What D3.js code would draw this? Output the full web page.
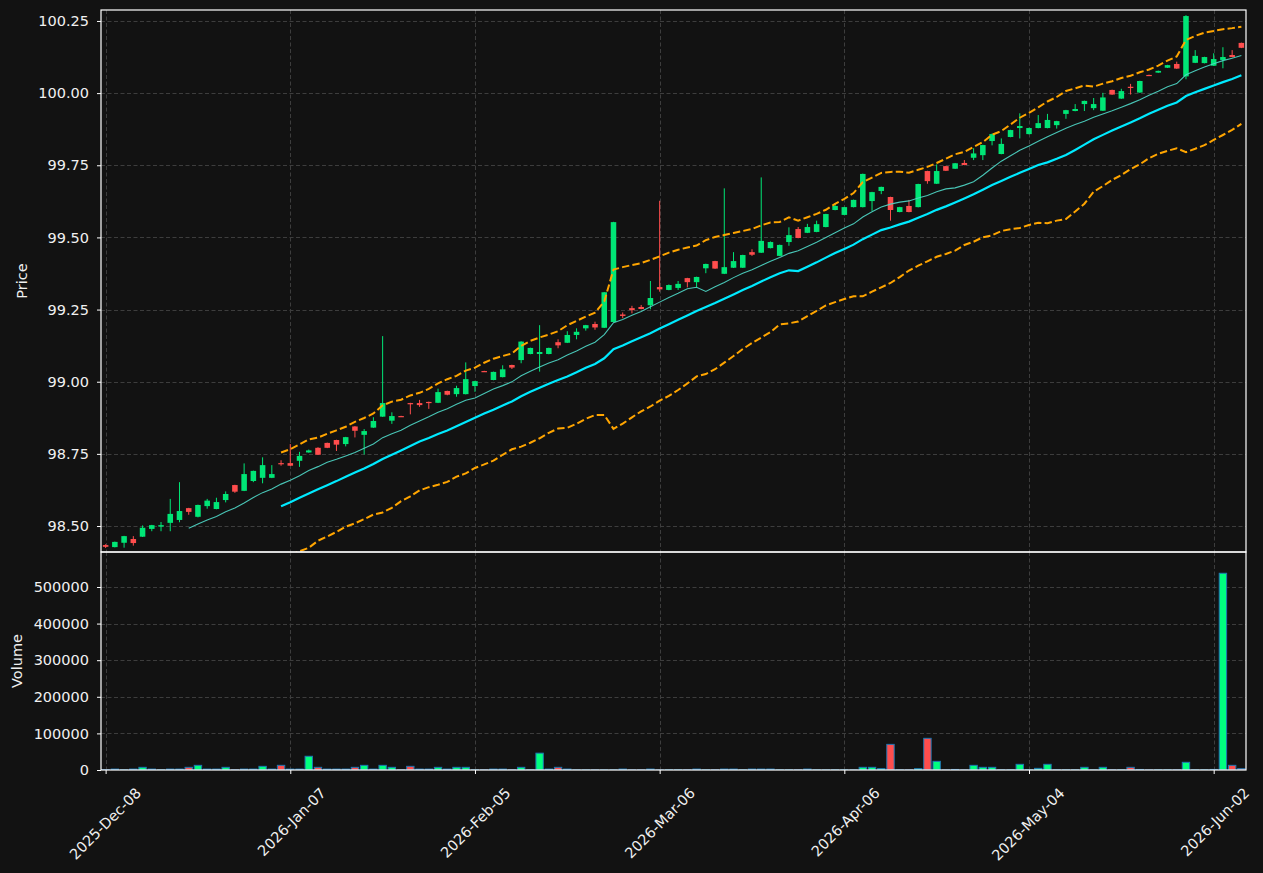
<!DOCTYPE html>
<html><head><meta charset="utf-8">
<script src="https://cdn.jsdelivr.net/npm/d3@7"></script>
<style>body{margin:0;background:#121212;} svg{display:block;} text{font-family:"DejaVu Sans",sans-serif;}</style>
</head><body><svg id="c" width="1263" height="873"></svg>
<script>
// ---- data (daily bars, index based x axis) ----
const openP = [98.434,98.427,98.442,98.455,98.463,98.490,98.498,98.511,98.521,98.562,
98.532,98.569,98.559,98.590,98.642,98.622,98.656,98.667,98.667,98.718,
98.718,98.726,98.755,98.771,98.788,98.798,98.784,98.845,98.816,98.841,
98.879,98.865,98.881,98.926,98.926,98.930,98.927,98.968,98.957,98.957,
98.985,99.037,99.006,99.016,99.058,99.075,99.096,99.096,99.096,99.137,
99.135,99.162,99.185,99.200,99.187,99.207,99.233,99.255,99.259,99.265,
99.328,99.318,99.325,99.359,99.345,99.393,99.418,99.374,99.395,99.395,
99.449,99.447,99.463,99.436,99.484,99.529,99.516,99.519,99.536,99.595,
99.578,99.605,99.605,99.626,99.661,99.640,99.588,99.609,99.605,99.730,
99.686,99.747,99.738,99.758,99.776,99.785,99.834,99.789,99.848,99.879,
99.858,99.879,99.879,99.889,99.928,99.938,99.962,99.948,99.939,100.011,
99.981,100.022,100.002,100.063,100.071,100.088,100.101,100.058,100.105,100.104,
100.095,100.115,100.132,100.174];
const highP = [98.437,98.446,98.466,98.465,98.502,98.504,98.514,98.594,98.652,98.563,
98.574,98.594,98.598,98.620,98.643,98.717,98.692,98.738,98.711,98.728,
98.784,98.757,98.765,98.773,98.789,98.799,98.809,98.846,98.836,98.877,
99.158,98.894,98.882,98.927,98.937,98.931,98.976,98.969,98.986,99.067,
99.003,99.038,99.035,99.057,99.059,99.140,99.118,99.196,99.118,99.147,
99.175,99.185,99.197,99.208,99.311,99.554,99.240,99.263,99.266,99.349,
99.627,99.337,99.349,99.360,99.364,99.409,99.419,99.670,99.449,99.440,
99.459,99.708,99.486,99.475,99.535,99.536,99.547,99.558,99.582,99.617,
99.606,99.631,99.721,99.658,99.676,99.641,99.606,99.630,99.686,99.731,
99.753,99.748,99.758,99.768,99.809,99.821,99.860,99.843,99.873,99.930,
99.880,99.924,99.928,99.904,99.942,99.962,99.974,99.983,100.001,100.012,
100.015,100.032,100.043,100.064,100.078,100.098,100.109,100.270,100.149,100.126,
100.138,100.159,100.149,100.175];
const lowP = [98.424,98.426,98.425,98.432,98.462,98.482,98.482,98.482,98.513,98.539,
98.530,98.560,98.558,98.582,98.615,98.621,98.652,98.648,98.666,98.709,
98.708,98.705,98.754,98.746,98.770,98.760,98.776,98.807,98.748,98.840,
98.878,98.854,98.879,98.887,98.913,98.906,98.926,98.953,98.948,98.956,
98.965,99.034,99.005,99.015,99.044,99.064,99.095,99.035,99.095,99.116,
99.134,99.147,99.177,99.180,99.186,99.206,99.220,99.237,99.251,99.251,
99.312,99.317,99.318,99.327,99.328,99.376,99.391,99.373,99.394,99.394,
99.436,99.446,99.462,99.435,99.471,99.497,99.515,99.518,99.535,99.594,
99.577,99.604,99.604,99.592,99.650,99.558,99.587,99.587,99.604,99.686,
99.685,99.730,99.737,99.750,99.768,99.768,99.819,99.788,99.847,99.843,
99.857,99.878,99.878,99.877,99.911,99.937,99.938,99.941,99.938,99.994,
99.980,99.995,100.001,100.060,100.070,100.087,100.084,100.048,100.104,100.103,
100.094,100.086,100.124,100.156];
const closeP = [98.428,98.445,98.465,98.441,98.494,98.503,98.503,98.542,98.552,98.549,
98.573,98.588,98.583,98.611,98.619,98.680,98.691,98.711,98.680,98.716,
98.709,98.743,98.762,98.747,98.771,98.782,98.808,98.830,98.829,98.864,
98.926,98.881,98.879,98.924,98.919,98.926,98.964,98.955,98.978,99.009,
99.002,99.035,99.034,99.043,99.049,99.139,99.117,99.103,99.117,99.126,
99.162,99.173,99.196,99.188,99.310,99.553,99.228,99.248,99.252,99.290,
99.320,99.335,99.339,99.345,99.363,99.408,99.392,99.397,99.418,99.439,
99.440,99.488,99.484,99.474,99.508,99.498,99.536,99.546,99.581,99.609,
99.605,99.630,99.720,99.657,99.675,99.595,99.605,99.588,99.685,99.695,
99.730,99.731,99.757,99.751,99.791,99.820,99.858,99.824,99.872,99.886,
99.879,99.896,99.907,99.903,99.941,99.945,99.973,99.962,99.985,99.995,
100.007,100.018,100.042,100.061,100.077,100.097,100.085,100.267,100.129,100.125,
100.118,100.125,100.125,100.157];
const volume = [800,2500,500,2500,7300,2500,500,2500,2500,7300,
12750,2500,2500,7300,500,2500,2500,10000,2500,12750,
2500,2500,37500,7300,2500,2500,2500,7300,12750,2500,
12750,7300,500,10000,2500,2500,7300,2500,7300,7300,
500,500,2500,2500,500,7300,500,46000,2500,7300,
2500,300,300,300,300,300,2500,300,300,2500,
300,500,500,500,2500,500,500,2500,2500,500,
2500,2500,2500,500,500,500,2500,500,300,500,
500,300,7300,7300,3600,70000,300,300,3600,86500,
23700,300,1500,300,12750,7300,7300,500,500,15500,
500,4500,15500,500,500,500,7300,500,7300,500,
500,7300,1500,300,500,500,500,21000,500,500,
1500,537500,12750,3600];
const tickIndex = [0,20,40,60,80,100,120];
const tickLabels = ["2025-Dec-08","2026-Jan-07","2026-Feb-05","2026-Mar-06","2026-Apr-06","2026-May-04","2026-Jun-02"];
const priceTicks = [98.50,98.75,99.00,99.25,99.50,99.75,100.00,100.25];
const volumeTicks = [0,100000,200000,300000,400000,500000];

// ---- indicators derived from closes ----
function sma(arr, n){ return arr.map((_,i)=> i<n-1 ? null : d3.mean(arr.slice(i-n+1,i+1))); }
function rstd(arr, n){ return arr.map((_,i)=> i<n-1 ? null : d3.deviation(arr.slice(i-n+1,i+1))); }
const ma10 = sma(closeP,10);
const ma20 = sma(closeP,20);
const sd20 = rstd(closeP,20);
const bbUp = ma20.map((m,i)=> m==null?null:m+2*sd20[i]);
const bbLo = ma20.map((m,i)=> m==null?null:m-2*sd20[i]);

// ---- layout ----
const W=1263,H=873;
const L=101, R=1246, pT=10, pB=552, vT=552, vB=770;
const n = closeP.length;
const svg = d3.select('#c');
svg.append('rect').attr('width',W).attr('height',H).attr('fill','#121212');
const x = d3.scaleLinear().domain([-0.5, n-0.5]).range([L,R]);
const yP = d3.scaleLinear().domain([98.41, 100.288]).range([pB,pT]);
const yV = d3.scaleLinear().domain([0, 595600]).range([vB,vT]);
const step = x(1)-x(0);
const idx = d3.range(n);
const GREEN='#00e676', RED='#ff4d4d', VGREEN='#00ff7f', VRED='#ff4d4d';
const up = i => closeP[i] >= openP[i];

const defs = svg.append('defs');
defs.append('clipPath').attr('id','cp').append('rect').attr('x',L).attr('y',pT).attr('width',R-L).attr('height',pB-pT);
defs.append('clipPath').attr('id','cv').append('rect').attr('x',L).attr('y',vT).attr('width',R-L).attr('height',vB-vT);

// grid
const grid = svg.append('g').attr('stroke','#3d3d3d').attr('stroke-width',1).attr('stroke-dasharray','4,2.5');
priceTicks.forEach(t=> grid.append('line').attr('x1',L).attr('x2',R).attr('y1',Math.round(yP(t))+0.5).attr('y2',Math.round(yP(t))+0.5));
volumeTicks.slice(1).forEach(t=> grid.append('line').attr('x1',L).attr('x2',R).attr('y1',Math.round(yV(t))+0.5).attr('y2',Math.round(yV(t))+0.5));
tickIndex.forEach(t=>{
  const xx = Math.round(x(t))+0.5;
  grid.append('line').attr('x1',xx).attr('x2',xx).attr('y1',pT).attr('y2',pB);
  grid.append('line').attr('x1',xx).attr('x2',xx).attr('y1',vT).attr('y2',vB);
});

// candles
const cg = svg.append('g').attr('clip-path','url(#cp)');
cg.selectAll('line.w').data(idx).join('line')
  .attr('x1',i=>x(i)).attr('x2',i=>x(i))
  .attr('y1',i=>yP(highP[i])).attr('y2',i=>yP(lowP[i]))
  .attr('stroke',i=>up(i)?GREEN:RED).attr('stroke-width',1);
const bw = step*0.6;
cg.selectAll('rect.b').data(idx).join('rect')
  .attr('x',i=>x(i)-bw/2).attr('width',bw)
  .attr('y',i=>Math.min(yP(openP[i]),yP(closeP[i])))
  .attr('height',i=>Math.max(1.2,Math.abs(yP(openP[i])-yP(closeP[i]))))
  .attr('fill',i=>up(i)?GREEN:RED);

// indicator lines
const lineP = arr => d3.line().defined(i=>arr[i]!=null).x(i=>x(i)).y(i=>yP(arr[i]))(idx);
const lg = svg.append('g').attr('clip-path','url(#cp)').attr('fill','none');
lg.append('path').attr('d',lineP(bbUp)).attr('stroke','#ffa500').attr('stroke-width',2).attr('stroke-dasharray','7.4,3.2');
lg.append('path').attr('d',lineP(bbLo)).attr('stroke','#ffa500').attr('stroke-width',2).attr('stroke-dasharray','7.4,3.2');
lg.append('path').attr('d',lineP(ma10)).attr('stroke','#4fd8c8').attr('stroke-width',1.1).attr('stroke-opacity',0.9);
lg.append('path').attr('d',lineP(ma20)).attr('stroke','#00eaff').attr('stroke-width',2.2);

// volume bars
const vg = svg.append('g').attr('clip-path','url(#cv)');
const vw = step*0.8;
vg.selectAll('rect').data(idx).join('rect')
  .attr('x',i=>x(i)-vw/2).attr('width',vw)
  .attr('y',i=>yV(volume[i])).attr('height',i=>yV(0)-yV(volume[i]))
  .attr('fill',i=>up(i)?VGREEN:VRED).attr('stroke','#1f77b4').attr('stroke-width',1);

// spines
const sp = svg.append('g').attr('fill','none').attr('stroke','#ffffff').attr('stroke-width',1.2);
sp.append('rect').attr('x',L).attr('y',pT).attr('width',R-L).attr('height',pB-pT);
sp.append('rect').attr('x',L).attr('y',vT).attr('width',R-L).attr('height',vB-vT);

// axes
function styleAxis(g){
  g.select('.domain').remove();
  g.selectAll('.tick line').attr('stroke','#ffffff');
  g.selectAll('.tick text').attr('fill','#f0f0f0').style('font-size','14.5px').style('font-family','"DejaVu Sans",sans-serif');
}
svg.append('g').attr('transform',`translate(${L},0)`)
  .call(d3.axisLeft(yP).tickValues(priceTicks).tickFormat(d3.format('.2f')).tickSize(4).tickPadding(8))
  .call(styleAxis);
svg.append('g').attr('transform',`translate(${L},0)`)
  .call(d3.axisLeft(yV).tickValues(volumeTicks).tickFormat(d3.format('d')).tickSize(4).tickPadding(8))
  .call(styleAxis);
const xa = svg.append('g').attr('transform',`translate(0,${vB})`)
  .call(d3.axisBottom(x).tickValues(tickIndex).tickFormat((d,k)=>tickLabels[k]).tickSize(4))
  .call(styleAxis);
xa.selectAll('.tick text').attr('x',0).attr('y',0).attr('dy',0)
  .attr('text-anchor','end').attr('transform','translate(36,24) rotate(-45)');

// axis titles
svg.append('text').attr('transform','translate(27,281) rotate(-90)').attr('text-anchor','middle')
  .attr('fill','#f0f0f0').style('font-size','14.5px').text('Price');
svg.append('text').attr('transform','translate(22,661) rotate(-90)').attr('text-anchor','middle')
  .attr('fill','#f0f0f0').style('font-size','14.5px').text('Volume');
</script></body></html>
